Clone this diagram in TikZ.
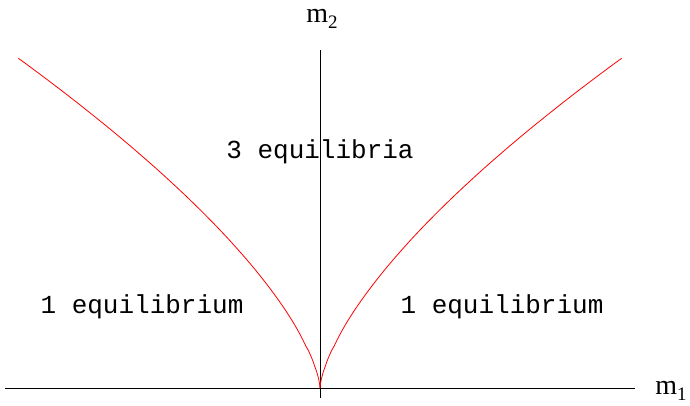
\documentclass[tikz,border=0pt]{standalone}
\usepackage{fontspec}
\setmainfont{Liberation Serif}
\setmonofont{Liberation Mono}
\newcommand{\sublabel}[1]{{\fontsize{19}{20}\selectfont\raisebox{-6pt}{#1}}}
\begin{document}
\begin{tikzpicture}[x=1pt,y=-1pt,
  region/.style={inner sep=0pt, anchor=base, font=\fontsize{26}{30}\selectfont\ttfamily},
  axislabel/.style={inner sep=0pt, anchor=base, font=\fontsize{28}{32}\selectfont},
  cusp/.style={red, line width=0.8pt}]
\useasboundingbox (0,0) rectangle (690,406);

% axes
\coordinate (O) at (320,388);
\coordinate (xleft) at (5,388);
\coordinate (xright) at (635,388);
\coordinate (ytop) at (320,50);
\coordinate (ybottom) at (320,398);
\draw[line width=0.7pt] (xleft) -- (xright);
\draw[line width=0.7pt] (ybottom) -- (ytop);
\node[axislabel] (m1) at (671,394) {m\sublabel{1}};
\node[axislabel] (m2) at (322,23) {m\sublabel{2}};

% bifurcation set
\draw[cusp] plot[domain=0:1, samples=80, variable=\t] ({320-302*\t^1.5},{388-330*\t});
\draw[cusp] plot[domain=0:1, samples=80, variable=\t] ({320+302*\t^1.5},{388-330*\t});

% regions
\node[region] (three) at (320,159) {3 equilibria};
\node[region] (oneleft) at (142,313) {1 equilibrium};
\node[region] (oneright) at (502,313) {1 equilibrium};
\end{tikzpicture}
\end{document}
